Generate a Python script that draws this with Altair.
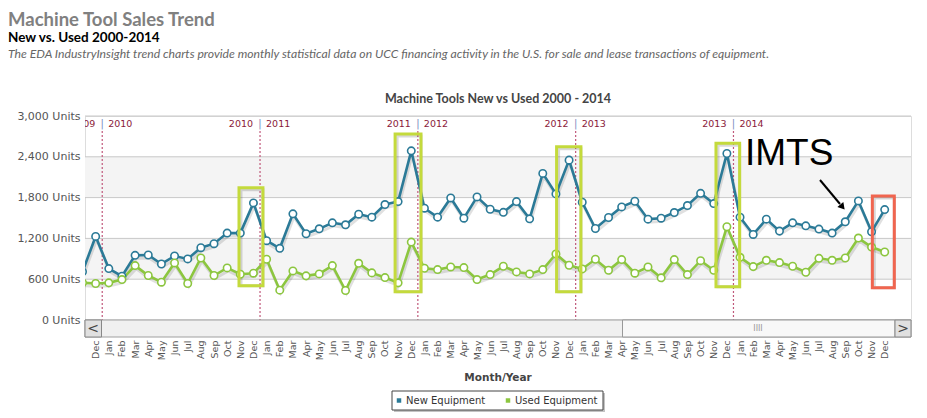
import json
import pandas as pd
import altair as alt

# ---------------- data ----------------
month_names = ["Jan", "Feb", "Mar", "Apr", "May", "Jun", "Jul", "Aug", "Sep", "Oct", "Nov", "Dec"]
# index -1 = Nov 2009, 0 = Dec 2009, ..., 60 = Dec 2014
month_index = list(range(-1, 61))
new_equipment = [710, 1229, 756, 644, 951, 956, 824, 941, 898, 1063, 1122, 1278, 1278, 1722,
                 1166, 1054, 1561, 1268, 1341, 1429, 1400, 1556, 1512, 1698, 1741, 2488,
                 1644, 1512, 1795, 1497, 1810, 1629, 1583, 1741, 1488, 2156, 1854, 2351,
                 1732, 1346, 1507, 1663, 1746, 1483, 1497, 1580, 1683, 1863, 1712, 2449,
                 1512, 1258, 1483, 1307, 1429, 1385, 1337, 1278, 1444, 1751, 1298, 1624]
used_equipment = [548, 537, 546, 595, 800, 654, 556, 839, 537, 912, 654, 766, 673, 688,
                  893, 439, 722, 649, 678, 800, 434, 834, 693, 624, 546, 1146,
                  761, 741, 780, 771, 595, 668, 790, 707, 678, 741, 971, 805,
                  751, 893, 732, 888, 688, 780, 620, 888, 668, 873, 732, 1371,
                  922, 785, 878, 844, 790, 702, 907, 878, 912, 1205, 1073, 1000]
series_names = ["New Equipment", "Used Equipment"]
y_ticks = [0, 600, 1200, 1800, 2400, 3000]
band_from = [600, 1800]
band_to = [1200, 2400]
year_sep_positions = [0.5, 12.5, 24.5, 36.5, 48.5]
year_left = ["2009", "2010", "2011", "2012", "2013"]
year_right = ["2010", "2011", "2012", "2013", "2014"]
box_start = [10.9, 22.77, 35.05, 47.17, 59.06]
box_end = [12.72, 24.74, 36.9, 48.97, 60.73]
box_top = [1946, 2735, 2549, 2598, 1824]
box_bottom = [504, 416, 416, 490, 475]
box_color = ["#c4da3c", "#c4da3c", "#c4da3c", "#c4da3c", "#f0654f"]

# ---------------- layout / style ----------------
W, H = 826, 204
BLUE = "#2b7a97"
GREEN = "#8cc63f"
FONT = "DejaVu Sans"
LEG_X, LEG_Y, LEG_W, LEG_H = 307, 275, 211, 19
LEG_ITEM_X = [314, 423]

df = pd.DataFrame({
    "idx": month_index * 2,
    "val": new_equipment + used_equipment,
    "series": [series_names[0]] * len(month_index) + [series_names[1]] * len(month_index),
})

x_scale = alt.Scale(domain=[-0.81, 62.0], nice=False, zero=False)
y_scale = alt.Scale(domain=[0, 3000], nice=False, zero=False)
color_scale = alt.Scale(domain=series_names, range=[BLUE, GREEN])

label_expr = json.dumps(month_names) + "[(datum.value + 11) % 12]"
x_axis = alt.Axis(values=list(range(0, 61)), labelExpr=label_expr, labelAngle=270,
                  labelAlign="right", labelBaseline="middle", labelFont=FONT,
                  labelFontSize=9.5, labelColor="#555", ticks=False, domain=False,
                  grid=False, offset=17, labelPadding=3, title="", labelOverlap=False,
                  labelFlush=False)
y_axis = alt.Axis(values=y_ticks, labelExpr="format(datum.value, ',') + ' Units'",
                  grid=False, domain=False, ticks=False, labelPadding=5, labelFont=FONT,
                  labelFontSize=11, labelColor="#555", title="")

X = alt.X("idx:Q", scale=x_scale, axis=x_axis)
Y = alt.Y("val:Q", scale=y_scale, axis=y_axis)

one = pd.DataFrame({"k": [0]})

# bands and grid
bands = alt.Chart(pd.DataFrame({"val": band_from, "val2": band_to})).mark_rect(
    fill="#f4f4f4").encode(x=alt.value(0), x2=alt.value(W), y=Y, y2="val2:Q")
grid = alt.Chart(pd.DataFrame({"val": y_ticks})).mark_rule(
    color="#c8c8c8", strokeWidth=1).encode(y=Y, x=alt.value(0), x2=alt.value(W))

# year separators
sep_df = pd.DataFrame({"idx": year_sep_positions, "left": year_left, "right": year_right})
sep_rule = alt.Chart(sep_df).mark_rule(color="#c0587a", strokeDash=[2, 2], strokeWidth=1.2).encode(
    x=X, y=alt.value(15), y2=alt.value(H))
sep_left = alt.Chart(sep_df).mark_text(align="right", dx=-7, baseline="middle", font=FONT,
                                       fontSize=9.5, color="#8b1a3a", clip=True).encode(
    x=X, y=alt.value(8), text="left:N")
sep_right = alt.Chart(sep_df).mark_text(align="left", dx=6, baseline="middle", font=FONT,
                                        fontSize=9.5, color="#8b1a3a", clip=True).encode(
    x=X, y=alt.value(8), text="right:N")
sep_bar = alt.Chart(sep_df).mark_text(text="|", align="center", baseline="middle", font=FONT,
                                      fontSize=10, color="#7a8cc0", clip=True).encode(
    x=X, y=alt.value(8))

# series
shadow = alt.Chart(df).mark_line(color="#000", opacity=0.12, strokeWidth=3, xOffset=1,
                                 yOffset=3, clip=True).encode(x=X, y=Y, detail="series:N")
lines = alt.Chart(df).mark_line(strokeWidth=2.6, clip=True).encode(
    x=X, y=Y, stroke=alt.Stroke("series:N", scale=color_scale, legend=None))
points = alt.Chart(df).mark_point(shape="circle", filled=True, fill="white", size=55,
                                  strokeWidth=1.6, opacity=1, clip=True).encode(
    x=X, y=Y, stroke=alt.Stroke("series:N", scale=color_scale, legend=None))

# highlight boxes
box_df = pd.DataFrame({"idx": box_start, "idx2": box_end, "val": box_top,
                       "val2": box_bottom, "color": box_color})
box_shadow = alt.Chart(box_df).mark_rect(fillOpacity=0, strokeWidth=3, stroke="#000",
                                         strokeOpacity=0.15, xOffset=2, yOffset=2).encode(
    x=X, x2="idx2:Q", y=Y, y2="val2:Q")
boxes = alt.Chart(box_df).mark_rect(fillOpacity=0, strokeWidth=3).encode(
    x=X, x2="idx2:Q", y=Y, y2="val2:Q", stroke=alt.Stroke("color:N", scale=None))

# IMTS annotation
imts = alt.Chart(one).mark_text(text="IMTS", font="Liberation Sans", fontSize=37,
                                align="left", baseline="alphabetic", color="black").encode(
    x=alt.value(660), y=alt.value(49))
arrow_line = alt.Chart(one).mark_rule(color="black", strokeWidth=2).encode(
    x=alt.value(735), y=alt.value(64), x2=alt.value(755), y2=alt.value(88))
arrow_head = alt.Chart(one).mark_point(shape="triangle-up", filled=True, color="black",
                                       size=60, angle=140, opacity=1).encode(
    x=alt.value(757.5), y=alt.value(91))

# headings
title_main = alt.Chart(one).mark_text(text="Machine Tool Sales Trend", font="Lato",
                                      fontWeight="bold", fontSize=18.5, color="#808080",
                                      align="left", baseline="alphabetic").encode(
    x=alt.value(-77), y=alt.value(-90))
title_sub = alt.Chart(one).mark_text(text="New vs. Used 2000-2014", font="Lato",
                                     fontWeight="bold", fontSize=13.5, color="#000",
                                     align="left", baseline="alphabetic").encode(
    x=alt.value(-77), y=alt.value(-74))
title_desc = alt.Chart(one).mark_text(
    text="The EDA IndustryInsight trend charts provide monthly statistical data on UCC financing activity in the U.S. for sale and lease transactions of equipment.",
    font="Lato", fontStyle="italic", fontSize=12.2, color="#666", align="left",
    baseline="alphabetic").encode(x=alt.value(-77), y=alt.value(-58))
chart_title = alt.Chart(one).mark_text(text="Machine Tools New vs Used 2000 - 2014",
                                       font="Lato", fontWeight="bold", fontSize=12.5,
                                       color="#444", align="center", baseline="middle").encode(
    x=alt.value(W / 2), y=alt.value(-17))
x_title = alt.Chart(one).mark_text(text="Month/Year", font=FONT, fontWeight="bold",
                                   fontSize=10.5, color="#444", align="center",
                                   baseline="middle").encode(
    x=alt.value(W / 2), y=alt.value(262))

# scrollbar
track = alt.Chart(one).mark_rect(fill="#f0f0f0", stroke="#a0a0a0", strokeWidth=1).encode(
    x=alt.value(0), x2=alt.value(W), y=alt.value(H), y2=alt.value(H + 17))
thumb = alt.Chart(one).mark_rect(fill="#f8f8f8", stroke="#999", strokeWidth=1).encode(
    x=alt.value(537.5), x2=alt.value(W - 16), y=alt.value(H), y2=alt.value(H + 17))
btn_left = alt.Chart(one).mark_rect(fill="#e0e0e0", stroke="#888", strokeWidth=1).encode(
    x=alt.value(0), x2=alt.value(16.5), y=alt.value(H), y2=alt.value(H + 17))
btn_right = alt.Chart(one).mark_rect(fill="#e0e0e0", stroke="#888", strokeWidth=1).encode(
    x=alt.value(W - 16), x2=alt.value(W), y=alt.value(H), y2=alt.value(H + 17))
arr_left = alt.Chart(one).mark_text(text="<", font=FONT, fontSize=14, color="#444",
                                    align="center", baseline="middle").encode(
    x=alt.value(8), y=alt.value(H + 8.5))
arr_right = alt.Chart(one).mark_text(text=">", font=FONT, fontSize=14, color="#444",
                                     align="center", baseline="middle").encode(
    x=alt.value(W - 8), y=alt.value(H + 8.5))
grip = alt.Chart(one).mark_text(text="IIII", font=FONT, fontSize=8, color="#999",
                                align="center", baseline="middle").encode(
    x=alt.value(673), y=alt.value(H + 8.5))

# legend (drawn as a box with one swatch + label per series)
legend_shadow = alt.Chart(one).mark_rect(fill="#888", opacity=0.5).encode(
    x=alt.value(LEG_X + 2), x2=alt.value(LEG_X + LEG_W + 2),
    y=alt.value(LEG_Y + 2), y2=alt.value(LEG_Y + LEG_H + 2))
legend_box = alt.Chart(one).mark_rect(fill="white", stroke="#444", strokeWidth=1).encode(
    x=alt.value(LEG_X), x2=alt.value(LEG_X + LEG_W),
    y=alt.value(LEG_Y), y2=alt.value(LEG_Y + LEG_H))
legend_items = []
for name, lx in zip(series_names, LEG_ITEM_X):
    item_df = pd.DataFrame({"series": [name]})
    legend_items.append(alt.Chart(item_df).mark_square(size=20, opacity=1).encode(
        x=alt.value(lx), y=alt.value(LEG_Y + LEG_H / 2),
        fill=alt.Fill("series:N", scale=color_scale, legend=None)))
    legend_items.append(alt.Chart(item_df).mark_text(
        align="left", baseline="middle", font=FONT, fontSize=10, color="#333").encode(
        x=alt.value(lx + 7), y=alt.value(LEG_Y + LEG_H / 2), text="series:N"))

chart = alt.layer(
    bands, grid, sep_rule, sep_left, sep_bar, sep_right,
    box_shadow, shadow, lines, points, boxes,
    imts, arrow_line, arrow_head,
    title_main, title_sub, title_desc, chart_title, x_title,
    track, thumb, btn_left, btn_right, arr_left, arr_right, grip,
    legend_shadow, legend_box, *legend_items,
).properties(
    width=W, height=H,
    autosize=alt.AutoSizeParams(type="none"),
    padding={"left": 77, "top": 108, "right": 4, "bottom": 94},
).configure_view(stroke="#a0a0a0", strokeWidth=1).configure(background="white")

chart.save("out.html", embed_options={"renderer": "svg", "actions": False})
